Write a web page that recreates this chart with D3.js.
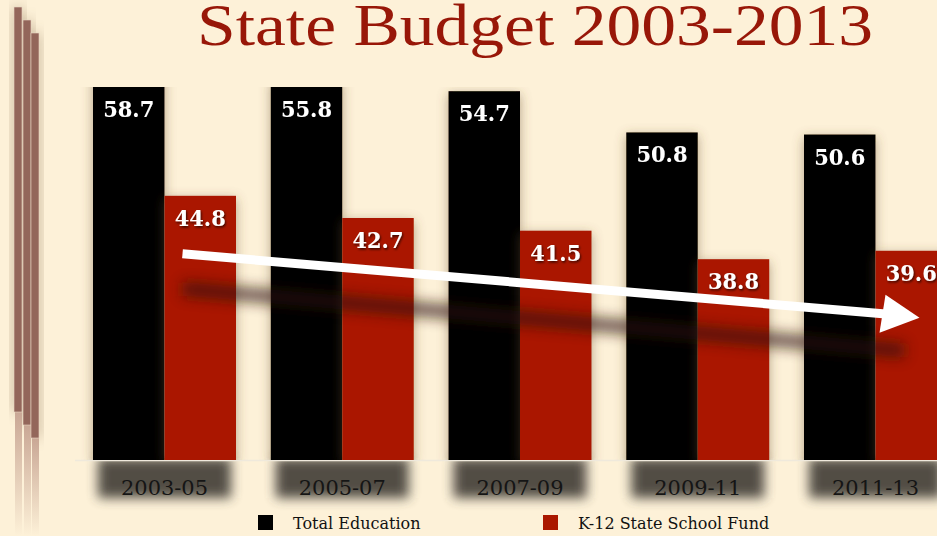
<!DOCTYPE html>
<html>
<head>
<meta charset="utf-8">
<script src="https://cdn.jsdelivr.net/npm/d3@7"></script>
<style>
  body { margin: 0; background: #fdf1d8; overflow: hidden; }
  svg { display: block; }
</style>
</head>
<body>
<div id="chart"></div>
<script>
// values (billions)
var periods = ["2003-05", "2005-07", "2007-09", "2009-11", "2011-13"];
var totalEducation = [58.7, 55.8, 54.7, 50.8, 50.6];
var k12Fund = [44.8, 42.7, 41.5, 38.8, 39.6];
var seriesNames = ["Total Education", "K-12 State School Fund"];
var seriesColors = ["#000000", "#aa1800"];

var svgWidth = 937;
var svgHeight = 536;
var baseY = 460;
var plotTop = 87;

var svg = d3.select("#chart").append("svg")
    .attr("width", svgWidth)
    .attr("height", svgHeight);

var defs = svg.append("defs");

var sh = defs.append("filter").attr("id", "barShadow")
    .attr("x", "-40%").attr("y", "-10%").attr("width", "180%").attr("height", "130%");
sh.append("feGaussianBlur").attr("in", "SourceAlpha").attr("stdDeviation", 6).attr("result", "b");
sh.append("feOffset").attr("in", "b").attr("dx", 0).attr("dy", 3).attr("result", "o");
sh.append("feFlood").attr("flood-color", "#6a5030").attr("flood-opacity", 0.5);
sh.append("feComposite").attr("in2", "o").attr("operator", "in").attr("result", "s");
var shm = sh.append("feMerge");
shm.append("feMergeNode").attr("in", "s");
shm.append("feMergeNode").attr("in", "SourceGraphic");

defs.append("filter").attr("id", "blur8")
    .attr("x", "-20%").attr("y", "-50%").attr("width", "140%").attr("height", "200%")
  .append("feGaussianBlur").attr("stdDeviation", 7);

defs.append("filter").attr("id", "blur5")
    .attr("x", "-20%").attr("y", "-50%").attr("width", "140%").attr("height", "200%")
  .append("feGaussianBlur").attr("stdDeviation", 6);

var ts = defs.append("filter").attr("id", "textShadow")
    .attr("x", "-20%").attr("y", "-20%").attr("width", "140%").attr("height", "150%");
ts.append("feDropShadow").attr("dx", 1).attr("dy", 1.5).attr("stdDeviation", 1)
    .attr("flood-color", "#000").attr("flood-opacity", 0.7);

var fade = defs.append("linearGradient").attr("id", "fade")
    .attr("x1", 0).attr("y1", 0).attr("x2", 0).attr("y2", 1);
fade.append("stop").attr("offset", "0%").attr("stop-color", "#c9a795");
fade.append("stop").attr("offset", "100%").attr("stop-color", "#fdf1d8");

defs.append("clipPath").attr("id", "plotClip")
  .append("rect").attr("x", 0).attr("y", plotTop).attr("width", svgWidth).attr("height", baseY - plotTop);

// background
svg.append("rect").attr("width", svgWidth).attr("height", svgHeight).attr("fill", "#fdf1d8");

// left decoration strips
var strips = [[14, 7, 412], [23, 20, 425], [31, 33, 438]];
var deco = svg.append("g");
deco.selectAll(".shade").data(strips).enter().append("rect")
    .attr("x", d => d[0] - 2).attr("y", d => d[1]).attr("width", 12).attr("height", d => d[2] - d[1])
    .attr("fill", "#7a6040").attr("opacity", 0.35).attr("filter", "url(#blur8)");
deco.selectAll(".refl").data(strips).enter().append("rect")
    .attr("x", d => d[0] + 1).attr("y", d => d[2]).attr("width", 7).attr("height", d => 536 - d[2])
    .attr("fill", "url(#fade)");
deco.selectAll(".strip").data(strips).enter().append("rect")
    .attr("x", d => d[0]).attr("y", d => d[1]).attr("width", 8).attr("height", d => d[2] - d[1])
    .attr("fill", "#93665a").attr("stroke", "#e9d6c4").attr("stroke-width", 0.6);

// title
svg.append("text")
    .attr("x", 535).attr("y", 45)
    .attr("text-anchor", "middle")
    .attr("font-family", "'Liberation Serif', serif")
    .attr("font-size", 60)
    .attr("textLength", 676).attr("lengthAdjust", "spacingAndGlyphs")
    .attr("fill", "#981708")
    .text("State Budget 2003-2013");

// scales
var x0 = d3.scaleBand().domain(periods).range([58.25, 981.75]).padding(0.1955);
var x1 = d3.scaleBand().domain([0, 1]).range([0, x0.bandwidth()]);
var y = d3.scaleLinear().domain([19.8, 55]).range([baseY, 88]);

var rows = periods.map((p, i) => ({ period: p, values: [totalEducation[i], k12Fund[i]] }));

// dark shadow under each group, behind the category labels
svg.append("g").selectAll("rect").data(periods).enter().append("rect")
    .attr("x", d => x0(d) + 5).attr("y", baseY - 2)
    .attr("width", x0.bandwidth() - 10).attr("height", 40)
    .attr("fill", "#48443c").attr("opacity", 0.95)
    .attr("filter", "url(#blur5)");

// baseline
svg.append("line")
    .attr("x1", 75).attr("x2", svgWidth).attr("y1", baseY + 0.5).attr("y2", baseY + 0.5)
    .attr("stroke", "#efe9dc").attr("stroke-width", 1.5);

// bars
var plot = svg.append("g").attr("clip-path", "url(#plotClip)");
var groups = plot.selectAll(".grp").data(rows).enter().append("g")
    .attr("transform", d => `translate(${x0(d.period)},0)`);

groups.selectAll("rect").data(d => d.values).enter().append("rect")
    .attr("x", (d, i) => x1(i))
    .attr("y", d => y(d))
    .attr("width", x1.bandwidth())
    .attr("height", d => baseY - y(d))
    .attr("fill", (d, i) => seriesColors[i])
    .attr("filter", "url(#barShadow)");

// trend arrow with its shadow
var start = [x0(periods[0]) + x1(1) + 18, y(k12Fund[0]) + 58];
var tip = [x0(periods[4]) + x1(1) + 44, y(k12Fund[4]) + 67];
var shadowG = svg.append("g").attr("filter", "url(#blur8)").attr("opacity", 0.7);
shadowG.append("line")
    .attr("x1", start[0]).attr("y1", start[1] + 35).attr("x2", tip[0] - 15).attr("y2", tip[1] + 33)
    .attr("stroke", "#2e1208").attr("stroke-width", 14);

svg.append("line")
    .attr("x1", start[0]).attr("y1", start[1]).attr("x2", tip[0] - 25).attr("y2", tip[1] - 3)
    .attr("stroke", "#ffffff").attr("stroke-width", 9);
svg.append("path")
    .attr("d", `M${tip[0] - 34},${tip[1] - 23} L${tip[0]},${tip[1]} L${tip[0] - 40},${tip[1] + 15} Z`)
    .attr("fill", "#ffffff");

// value labels
groups.selectAll("text").data(d => d.values).enter().append("text")
    .attr("x", (d, i) => x1(i) + x1.bandwidth() / 2)
    .attr("y", d => Math.max(y(d), plotTop) + 30)
    .attr("text-anchor", "middle")
    .attr("font-family", "'DejaVu Serif', serif")
    .attr("font-weight", "bold")
    .attr("font-size", 23)
    .attr("textLength", 51).attr("lengthAdjust", "spacingAndGlyphs")
    .attr("fill", "#ffffff")
    .attr("filter", "url(#textShadow)")
    .text(d => d.toFixed(1));

// x axis
var xAxis = d3.axisBottom(x0).tickSize(0).tickPadding(0);
var xg = svg.append("g").attr("transform", `translate(0,${baseY})`).call(xAxis);
xg.select(".domain").remove();
xg.selectAll("text")
    .attr("dy", 0).attr("y", 35)
    .attr("font-family", "'DejaVu Serif', serif")
    .attr("font-size", 20)
    .attr("textLength", 87).attr("lengthAdjust", "spacingAndGlyphs")
    .attr("fill", "#151515");

// legend
var legendX = [258, 543];
var legend = svg.append("g").selectAll("g").data(seriesNames).enter().append("g")
    .attr("transform", (d, i) => `translate(${legendX[i]},515)`);
legend.append("rect").attr("width", 15).attr("height", 15)
    .attr("fill", (d, i) => seriesColors[i]);
legend.append("text").attr("x", 35).attr("y", 14)
    .attr("font-family", "'DejaVu Serif', serif")
    .attr("font-size", 16)
    .attr("fill", "#111")
    .text(d => d);
</script>
</body>
</html>
